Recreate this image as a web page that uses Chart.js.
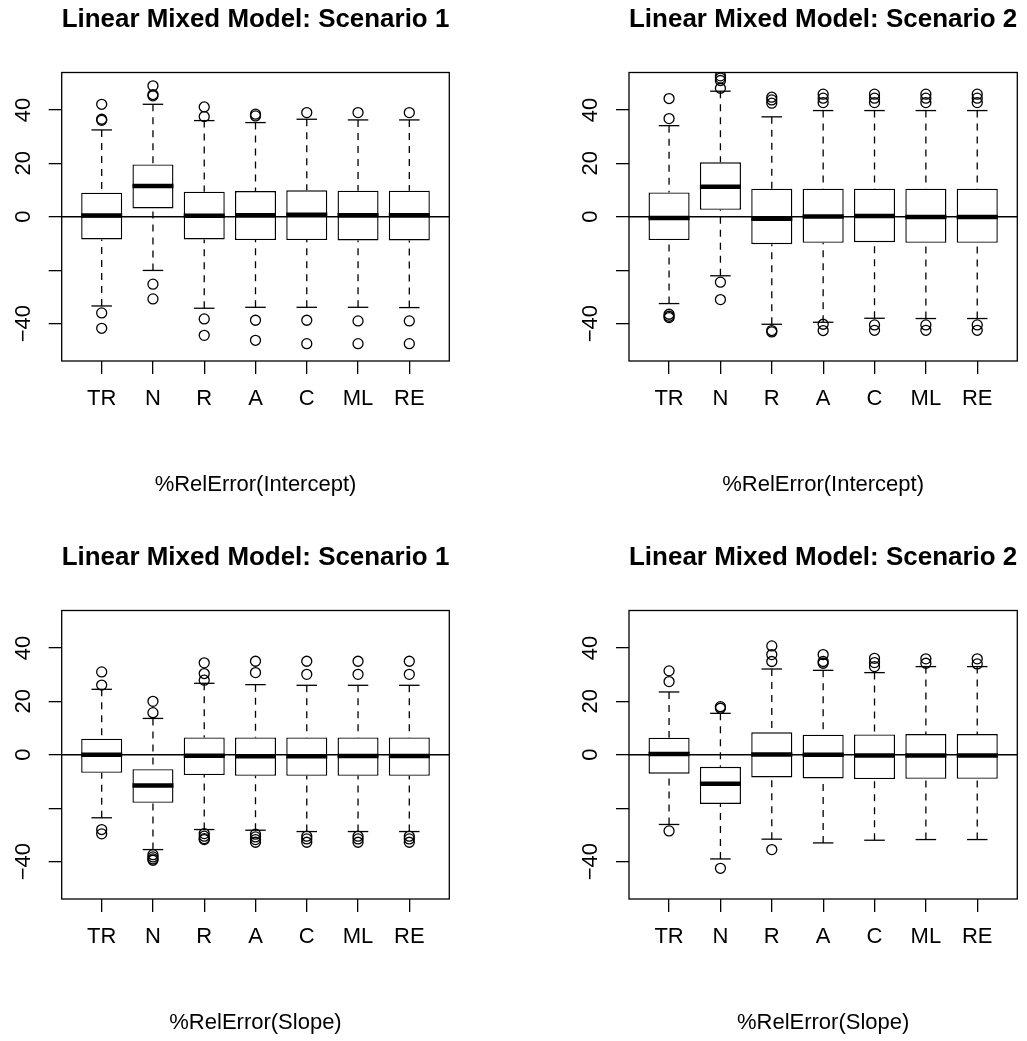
<!DOCTYPE html>
<html>
<head>
<meta charset="utf-8">
<script src="https://cdn.jsdelivr.net/npm/chart.js@4.4.1/dist/chart.umd.min.js"></script>
<style>
  body { margin: 0; background: #fff; }
  #wrap { position: relative; width: 1027px; height: 1041px; overflow: hidden; }
  .panel { position: absolute; }
</style>
</head>
<body>
<div id="wrap">
  <div class="panel" id="p1"><canvas id="c1"></canvas></div>
  <div class="panel" id="p2"><canvas id="c2"></canvas></div>
  <div class="panel" id="p3"><canvas id="c3"></canvas></div>
  <div class="panel" id="p4"><canvas id="c4"></canvas></div>
</div>
<script>
const categories = ["TR", "N", "R", "A", "C", "ML", "RE"];
const yTickValues = [-40, -20, 0, 20, 40];
const yTickLabels = ["\u221240", "", "0", "20", "40"];

// Scenario 1 - intercept
const s1iLower  = [-33.4, -20.1, -34.25, -33.9, -33.9, -33.9, -34];
const s1iQ1     = [-8.5, 3.1, -8.5, -8.75, -8.75, -8.9, -8.9];
const s1iMedian = [0.5, 11.5, 0.4, 0.6, 0.75, 0.6, 0.6];
const s1iQ3     = [9, 19.6, 9.4, 9.6, 9.9, 9.75, 9.75];
const s1iUpper  = [32.5, 42.1, 36, 35.25, 36.5, 36.25, 36.25];
const s1iOut    = [[42.1, 36.5, 36.1, -36, -41.75], [49, 45.75, 45.25, -25.25, -30.75],
                   [41.1, 37.5, -38.25, -44.4], [38.4, 37.75, -38.75, -46.25],
                   [39, -38.75, -47.5], [39, -39, -47.5], [39, -39, -47.5]];

// Scenario 2 - intercept
const s2iLower  = [-32.5, -22.1, -40.25, -39.5, -38, -38.1, -38.1];
const s2iQ1     = [-8.75, 2.6, -10.25, -9.75, -9.5, -9.75, -9.75];
const s2iMedian = [-0.5, 11.25, -0.75, 0.1, 0.25, -0.1, -0.1];
const s2iQ3     = [9.1, 20.4, 10.5, 10.5, 10.5, 10.5, 10.5];
const s2iUpper  = [34.1, 47, 37.4, 39.75, 39.75, 39.75, 39.75];
const s2iOut    = [[44.25, 36.75, -36.5, -37.25, -37.75], [52.75, 51.9, 51, 48.1, -24.5, -31],
                   [44.75, 43.75, 42.5, -42.6, -43.1], [45.9, 44.4, 42.75, -40.25, -42.6],
                   [45.9, 44.4, 42.75, -40.5, -42.5], [45.9, 44.4, 42.75, -40.5, -42.5],
                   [45.9, 44.4, 42.75, -40.5, -42.5]];

// Scenario 1 - slope
const s1sLower  = [-23.6, -35.5, -28, -28.25, -28.75, -28.75, -28.75];
const s1sQ1     = [-6.75, -18, -7.6, -7.9, -7.9, -7.9, -7.9];
const s1sMedian = [0, -11.5, -0.4, -0.6, -0.6, -0.5, -0.5];
const s1sQ3     = [6, -5.4, 6.5, 6.5, 6.5, 6.5, 6.5];
const s1sUpper  = [24.5, 13.6, 26.75, 26.25, 26, 26, 26];
const s1sOut    = [[31, 26.1, -28, -29.6], [20, 15.75, -37.4, -38.25, -39, -39.5],
                   [34.4, 30.4, 27.9, -29.5, -30.5, -31.4, -31.75],
                   [35, 30.75, -29.75, -30.75, -31.75, -32.75],
                   [35, 30.1, -30.5, -31.5, -32.75], [35, 30.1, -30.5, -31.5, -32.75],
                   [35, 30.1, -30.5, -31.5, -32.75]];

// Scenario 2 - slope
const s2sLower  = [-26.1, -39, -31.6, -33, -32, -31.75, -31.75];
const s2sQ1     = [-7.1, -18.4, -8.5, -8.9, -9.1, -9, -9];
const s2sMedian = [0.25, -10.9, 0.1, 0, -0.25, -0.25, -0.25];
const s2sQ3     = [6.4, -4.5, 8.4, 7.5, 7.6, 7.75, 7.75];
const s2sUpper  = [23.5, 15.5, 32.1, 31.6, 30.75, 33, 33];
const s2sOut    = [[31.4, 27.4, -28.5], [18, 17.4, -42.5], [40.75, 37.5, 34.9, -35.5],
                   [37.5, 34.9, 34.25], [36.1, 34.5, 33], [35.9, 34.25], [35.9, 34]];

const FONT = "'Liberation Sans', Arial, Helvetica, sans-serif";
Chart.defaults.font.family = FONT;
Chart.defaults.color = "#000";

// page geometry (px)
const cols = [
  { x: 0, w: 513, plotLeft: 61.7, plotRight: 449.3 },
  { x: 513, w: 514, plotLeft: 116, plotRight: 504.3 }
];
const rows = [{ y: 0, h: 538 }, { y: 538, h: 503 }];
const TITLE_Y = 20, PLOT_TOP = 72.5, PLOT_BOTTOM = 361, XLAB_Y = 485;

const boxParts = {
  id: "boxParts",
  afterDatasetsDraw(chart, args, opts) {
    const { ctx, chartArea: a, scales: { x, y } } = chart;
    const s = opts.stats;
    const seg = (x1, y1, x2, y2) => { ctx.beginPath(); ctx.moveTo(x1, y1); ctx.lineTo(x2, y2); ctx.stroke(); };
    ctx.save();
    ctx.strokeStyle = "#000";
    ctx.lineCap = "butt";
    for (let i = 0; i < categories.length; i++) {
      const xc = x.getPixelForValue(i + 1);
      const cl = x.getPixelForValue(i + 1 - 0.2), cr = x.getPixelForValue(i + 1 + 0.2);
      const bl = x.getPixelForValue(i + 1 - 0.4), br = x.getPixelForValue(i + 1 + 0.4);
      const yLo = y.getPixelForValue(s.lower[i]), yHi = y.getPixelForValue(s.upper[i]);
      ctx.lineWidth = 1.3;
      ctx.setLineDash([7, 6]);
      seg(xc, yHi, xc, y.getPixelForValue(s.q3[i]));
      seg(xc, yLo, xc, y.getPixelForValue(s.q1[i]));
      ctx.setLineDash([]);
      seg(cl, yHi, cr, yHi);
      seg(cl, yLo, cr, yLo);
      ctx.lineWidth = 4.5;
      const ym = y.getPixelForValue(s.median[i]);
      seg(bl, ym, br, ym);
    }
    // reference line at 0
    ctx.lineWidth = 1.3;
    const y0 = y.getPixelForValue(0);
    seg(a.left, y0, a.right, y0);
    // frame
    ctx.strokeRect(a.left, a.top, a.right - a.left, a.bottom - a.top);
    // rotated y tick labels
    ctx.fillStyle = "#000";
    ctx.font = "22px " + FONT;
    ctx.textAlign = "center";
    ctx.textBaseline = "alphabetic";
    yTickValues.forEach((v, k) => {
      ctx.save();
      ctx.translate(a.left - 31.7, y.getPixelForValue(v));
      ctx.rotate(-Math.PI / 2);
      ctx.fillText(yTickLabels[k], 0, 0);
      ctx.restore();
    });
    ctx.restore();
  }
};

function makePanel(n, col, row, title, xlab, lower, q1, median, q3, upper, outliers) {
  const c = cols[col], r = rows[row];
  const div = document.getElementById("p" + n);
  div.style.left = c.x + "px";
  div.style.top = r.y + "px";
  div.style.width = c.w + "px";
  div.style.height = r.h + "px";

  const boxes = categories.map((k, i) => ({ x: i + 1, y: [q1[i], q3[i]] }));
  const points = [];
  outliers.forEach((list, i) => list.forEach(v => points.push({ x: i + 1, y: v })));

  new Chart(document.getElementById("c" + n), {
    type: "bar",
    data: {
      datasets: [
        {
          type: "bar",
          data: boxes,
          backgroundColor: "#fff",
          borderColor: "#000",
          borderWidth: 1.4,
          borderSkipped: false,
          barPercentage: 0.8,
          categoryPercentage: 1.0
        },
        {
          type: "scatter",
          data: points,
          pointStyle: "circle",
          pointRadius: 5,
          pointBackgroundColor: "rgba(0,0,0,0)",
          pointBorderColor: "#000",
          pointBorderWidth: 1.3
        }
      ]
    },
    options: {
      responsive: true,
      maintainAspectRatio: false,
      animation: false,
      events: [],
      // left padding = plot left so the title centres over the plot box
      layout: { padding: { left: c.plotLeft, right: c.w - c.plotRight, top: 0, bottom: 0 } },
      plugins: {
        legend: { display: false },
        tooltip: { enabled: false },
        title: {
          display: true,
          text: title,
          color: "#000",
          font: { size: 26, weight: "bold", lineHeight: 1.2 },
          padding: { top: TITLE_Y - 15.6, bottom: PLOT_TOP - (TITLE_Y - 15.6) - 31.2 }
        },
        boxParts: { stats: { lower, q1, median, q3, upper } }
      },
      scales: {
        x: {
          type: "linear",
          min: 0.22,
          max: 7.78,
          offset: false,
          afterBuildTicks: s => { s.ticks = categories.map((k, i) => ({ value: i + 1 })); },
          afterFit: s => { s.height = r.h - PLOT_BOTTOM; },
          ticks: {
            autoSkip: false,
            maxRotation: 0,
            padding: 12,
            font: { size: 22 },
            color: "#000",
            callback: v => categories[Math.round(v) - 1]
          },
          grid: { offset: false, drawOnChartArea: false, drawTicks: true, tickLength: 13, color: "#000", lineWidth: 1.3 },
          border: { display: false },
          title: {
            display: true,
            text: xlab,
            color: "#000",
            font: { size: 22, lineHeight: 1.2 },
            padding: { top: 0, bottom: r.h - XLAB_Y - 13.2 }
          }
        },
        y: {
          min: -54,
          max: 54,
          afterBuildTicks: s => { s.ticks = yTickValues.map(v => ({ value: v })); },
          afterFit: s => { s.width = 0; },
          ticks: { display: false },
          grid: { drawOnChartArea: false, drawTicks: true, tickLength: 13, color: "#000", lineWidth: 1.3 },
          border: { display: false }
        }
      }
    },
    plugins: [boxParts]
  });
}

makePanel(1, 0, 0, "Linear Mixed Model: Scenario 1", "%RelError(Intercept)", s1iLower, s1iQ1, s1iMedian, s1iQ3, s1iUpper, s1iOut);
makePanel(2, 1, 0, "Linear Mixed Model: Scenario 2", "%RelError(Intercept)", s2iLower, s2iQ1, s2iMedian, s2iQ3, s2iUpper, s2iOut);
makePanel(3, 0, 1, "Linear Mixed Model: Scenario 1", "%RelError(Slope)", s1sLower, s1sQ1, s1sMedian, s1sQ3, s1sUpper, s1sOut);
makePanel(4, 1, 1, "Linear Mixed Model: Scenario 2", "%RelError(Slope)", s2sLower, s2sQ1, s2sMedian, s2sQ3, s2sUpper, s2sOut);
</script>
</body>
</html>
